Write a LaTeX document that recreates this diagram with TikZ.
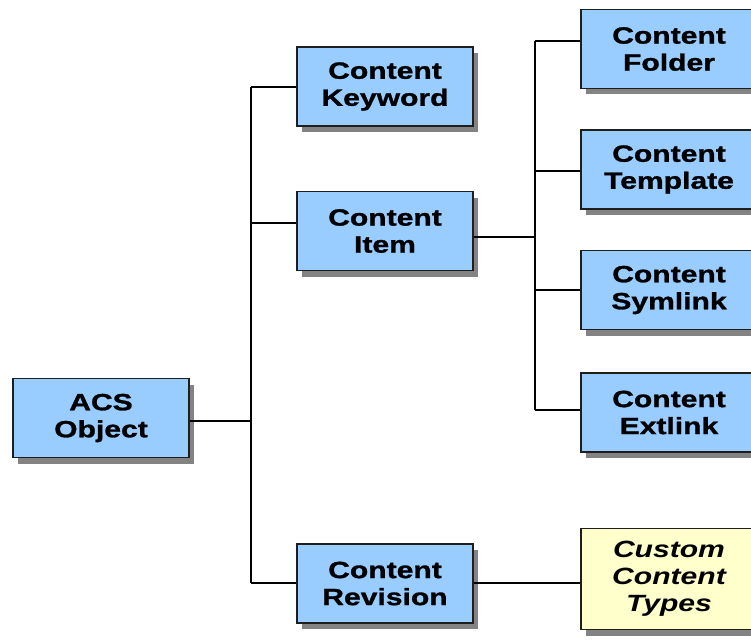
\documentclass[tikz,border=0pt]{standalone}
\usepackage{fontspec}
\setmainfont{Liberation Sans}[FakeStretch=1.28, BoldFeatures={FakeBold=1.2}]
\usetikzlibrary{shadows}
\definecolor{boxblue}{RGB}{153,204,255}
\definecolor{boxyellow}{RGB}{255,255,204}
\definecolor{edge}{RGB}{30,30,30}
\tikzset{
  cls/.style={draw=edge, line width=1.4pt, fill=boxblue, minimum width=176pt, minimum height=79pt,
    align=center, inner sep=0pt, font=\bfseries\fontsize{23.5}{27}\selectfont,
    drop shadow={shadow xshift=5pt, shadow yshift=-6pt, fill=black!65, opacity=.75}},
  custom/.style={cls, fill=boxyellow, minimum height=101pt, font=\bfseries\itshape\fontsize{23.5}{27}\selectfont},
  wire/.style={draw=black, line width=1.5pt}
}
\begin{document}
\begin{tikzpicture}[x=1pt, y=-1pt]
\useasboundingbox (0,0) rectangle (751,639);
% nodes
\node[cls] (acs) at (101,418) {ACS\\Object};
\node[cls] (keyword) at (385,86.5) {Content\\Keyword};
\node[cls] (item) at (385,231) {Content\\Item};
\node[cls] (revision) at (385,583.5) {Content\\Revision};
\node[cls] (folder) at (669,49) {Content\\Folder};
\node[cls] (template) at (669,169.5) {Content\\Template};
\node[cls] (symlink) at (669,290) {Content\\Symlink};
\node[cls] (extlink) at (669,412.5) {Content\\Extlink};
\node[custom] (types) at (669,579) {Custom\\Content\\Types};
% trunk coordinates
\coordinate (ta) at (251,87);
\coordinate (tb) at (251,583);
\coordinate (ua) at (535,41);
\coordinate (ub) at (535,410);
% connectors
\draw[wire] (ta) -- (tb);
\draw[wire] ([yshift=-3pt]acs.east) -- ([yshift=-3pt]acs.east -| ta);
\draw[wire] (ta) -- (ta -| keyword.west);
\draw[wire] ([yshift=8pt]item.west) -| (ta);
\draw[wire] (tb) -- (tb -| revision.west);
\draw[wire] (tb -| revision.east) -- (tb -| types.west);
\draw[wire] (ua) -- (ub);
\draw[wire] ([yshift=-6pt]item.east) -- ([yshift=-6pt]item.east -| ua);
\draw[wire] (ua) -- (ua -| folder.west);
\draw[wire] ([yshift=-1.5pt]template.west) -- ([yshift=-1.5pt]template.west -| ua);
\draw[wire] (symlink.west) -- (symlink.west -| ua);
\draw[wire] (ub) -- (ub -| extlink.west);
\end{tikzpicture}
\end{document}
